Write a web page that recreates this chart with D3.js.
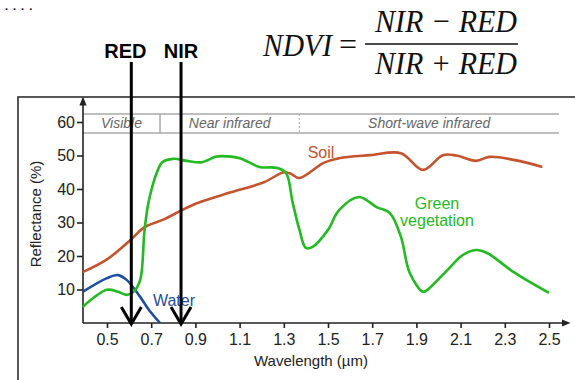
<!DOCTYPE html>
<html>
<head>
<meta charset="utf-8">
<script src="https://cdn.jsdelivr.net/npm/d3@7"></script>
<style>
  body { margin: 0; background: #fff; }
  svg { display: block; }
</style>
</head>
<body>
<script>
var width = 575, height = 380;

// spectral curves, [wavelength um, reflectance %]
var soil = [[0.39,15.2],[0.5,19],[0.61,25],[0.67,28.6],[0.76,31],[0.83,33.4],[0.91,35.8],[1.06,39],[1.21,42],[1.30,45],[1.33,44.6],[1.37,43.3],[1.48,47.8],[1.55,49.2],[1.69,50.1],[1.83,50.7],[1.93,45.7],[2.02,50.1],[2.08,50],[2.17,48.4],[2.23,49.6],[2.34,48.7],[2.47,46.6]];
var vegetation = [[0.39,4.8],[0.5,9.9],[0.55,9.3],[0.59,8.4],[0.62,9.3],[0.65,12.8],[0.67,27.8],[0.69,36.7],[0.73,45.7],[0.75,48],[0.80,49],[0.86,48.4],[0.93,48],[0.99,49.6],[1.02,49.8],[1.10,49.2],[1.19,46.6],[1.27,46.3],[1.31,44.8],[1.34,36],[1.37,28],[1.40,22.4],[1.43,22.7],[1.50,27.8],[1.55,33.7],[1.64,37.6],[1.72,34.6],[1.78,32.8],[1.83,25.7],[1.87,14.9],[1.93,9.3],[1.95,9.9],[2.04,15.8],[2.11,20.3],[2.17,21.8],[2.22,20.9],[2.34,15.2],[2.50,9.0]];
var water = [[0.39,9.3],[0.5,13.4],[0.55,14.3],[0.59,12.8],[0.65,7.8],[0.69,3.9],[0.74,0]];

var xTicks = [0.5,0.7,0.9,1.1,1.3,1.5,1.7,1.9,2.1,2.3,2.5];
var yTicks = [10,20,30,40,50,60];
var bands = [
  {name: "Visible", from: 0.39, to: 0.74},
  {name: "Near infrared", from: 0.74, to: 1.37},
  {name: "Short-wave infrared", from: 1.37, to: 2.55}
];
var sensorBands = [{name: "RED", at: 0.61}, {name: "NIR", at: 0.835}];

var x = d3.scaleLinear().domain([0.5, 2.5]).range([107, 549]);
var y = d3.scaleLinear().domain([0, 60]).range([323, 122]);

var svg = d3.select("body").append("svg")
    .attr("width", width)
    .attr("height", height)
    .style("font-family", "'Liberation Sans', Arial, sans-serif");

svg.append("defs").append("marker")
    .attr("id", "tri")
    .attr("viewBox", "0 0 10 10")
    .attr("refX", 5).attr("refY", 5)
    .attr("markerWidth", 9).attr("markerHeight", 9)
    .attr("orient", "auto")
    .attr("markerUnits", "userSpaceOnUse")
  .append("path")
    .attr("d", "M0,1 L10,5 L0,9 z")
    .style("fill", "#222");

// tail of a text line above the figure
svg.append("text")
    .attr("x", 5).attr("y", 10)
    .style("font-weight", "bold").style("font-size", "11px")
    .style("letter-spacing", "5px")
    .text("....");

// frame around the figure
svg.append("path")
    .attr("d", "M18,385 L18,97 L580,97")
    .style("fill", "none").style("stroke", "#222").style("stroke-width", 1.5);

// band header box
var x0 = 83, x1 = 559;
var bandG = svg.append("g");
bandG.append("line").attr("x1", x0).attr("x2", x1).attr("y1", 114).attr("y2", 114);
bandG.append("line").attr("x1", x0).attr("x2", x1).attr("y1", 133).attr("y2", 133);
bandG.append("line").attr("x1", x(0.74)).attr("x2", x(0.74)).attr("y1", 114).attr("y2", 133);
bandG.selectAll("line").style("stroke", "#aaa").style("stroke-width", 1.5);
bandG.append("line").attr("x1", x(1.37)).attr("x2", x(1.37)).attr("y1", 114).attr("y2", 133)
    .style("stroke", "#aaa").style("stroke-width", 1).style("stroke-dasharray", "2,2");
bandG.selectAll("text.band").data(bands).enter().append("text")
    .attr("class", "band")
    .attr("x", function(d){ return (Math.max(x(d.from), x0) + Math.min(x(d.to), x1)) / 2; })
    .attr("y", 128)
    .attr("text-anchor", "middle")
    .style("font-style", "italic").style("font-size", "14px").style("fill", "#666")
    .text(function(d){ return d.name; });

// axes
var xAxis = svg.append("g").attr("transform", "translate(0," + y(0) + ")")
    .call(d3.axisBottom(x).tickValues(xTicks).tickSize(5).tickPadding(6).tickFormat(d3.format(".1f")));
xAxis.select(".domain").remove();
xAxis.append("line").attr("class", "axisline")
    .attr("x1", x0).attr("x2", 566).attr("y1", 0).attr("y2", 0)
    .attr("marker-end", "url(#tri)");

var yAxis = svg.append("g").attr("transform", "translate(" + x0 + ",0)")
    .call(d3.axisLeft(y).tickValues(yTicks).tickSize(6).tickPadding(2));
yAxis.select(".domain").remove();
yAxis.append("line").attr("class", "axisline")
    .attr("x1", 0).attr("x2", 0).attr("y1", y(0)).attr("y2", 101)
    .attr("marker-end", "url(#tri)");

svg.selectAll(".tick line, line.axisline").style("stroke", "#222").style("stroke-width", 1.6);
svg.selectAll(".tick text")
    .style("font-size", "16px").style("fill", "#222")
    .style("font-family", "'Liberation Sans', Arial, sans-serif");

svg.append("text")
    .attr("x", 311).attr("y", 366)
    .attr("text-anchor", "middle")
    .style("font-size", "15px").style("fill", "#222")
    .text("Wavelength (\u00b5m)");
svg.append("text")
    .attr("transform", "translate(41,214) rotate(-90)")
    .attr("text-anchor", "middle")
    .style("font-size", "15px").style("fill", "#222")
    .text("Reflectance (%)");

// curves
var line = d3.line()
    .x(function(d){ return x(d[0]); })
    .y(function(d){ return y(d[1]); })
    .curve(d3.curveCatmullRom.alpha(0.5));

var series = [
  {data: soil, color: "#c4532e"},
  {data: water, color: "#1d4f9e"},
  {data: vegetation, color: "#22bb22"}
];
svg.selectAll("path.curve").data(series).enter().append("path")
    .attr("class", "curve")
    .attr("d", function(d){ return line(d.data); })
    .style("fill", "none")
    .style("stroke", function(d){ return d.color; })
    .style("stroke-width", 2.6)
    .style("stroke-linejoin", "round");

var labels = [
  {text: "Soil", x: 321, y: 158, color: "#c4532e"},
  {text: "Green", x: 437, y: 209, color: "#22bb22"},
  {text: "vegetation", x: 437, y: 226, color: "#22bb22"},
  {text: "Water", x: 174, y: 306, color: "#1d4f9e"}
];
svg.selectAll("text.lbl").data(labels).enter().append("text")
    .attr("class", "lbl")
    .attr("x", function(d){ return d.x; })
    .attr("y", function(d){ return d.y; })
    .attr("text-anchor", "middle")
    .style("font-size", "16px")
    .style("fill", function(d){ return d.color; })
    .text(function(d){ return d.text; });

// sensor band arrows
var arrows = svg.selectAll("g.arrow").data(sensorBands).enter().append("g").attr("class", "arrow");
arrows.append("line")
    .attr("x1", function(d){ return x(d.at); })
    .attr("x2", function(d){ return x(d.at); })
    .attr("y1", 62).attr("y2", 324);
arrows.append("path")
    .attr("d", function(d){ var cx = x(d.at); return "M" + (cx - 10) + ",307 L" + cx + ",324 L" + (cx + 10) + ",307"; })
    .style("fill", "none");
arrows.selectAll("line, path").style("stroke", "#000").style("stroke-width", 3);
arrows.append("text")
    .attr("x", function(d){ return x(d.at) - (d.name == "RED" ? 6 : 0); })
    .attr("y", 58)
    .attr("text-anchor", "middle")
    .style("font-weight", "bold").style("font-size", "20px")
    .text(function(d){ return d.name; });

// NDVI formula
var f = svg.append("g")
    .style("font-family", "'Liberation Serif', 'DejaVu Serif', serif")
    .style("font-style", "italic").style("font-size", "32px").style("fill", "#111");
f.append("text").attr("x", 263).attr("y", 56).attr("textLength", 69).attr("lengthAdjust", "spacingAndGlyphs").text("NDVI");
f.append("text").attr("x", 339).attr("y", 55).style("font-style", "normal").text("=");
f.append("text").attr("x", 375).attr("y", 32).attr("textLength", 142).attr("lengthAdjust", "spacingAndGlyphs").text("NIR \u2212 RED");
f.append("line").attr("x1", 365).attr("x2", 518).attr("y1", 44).attr("y2", 44)
    .style("stroke", "#111").style("stroke-width", 1.5);
f.append("text").attr("x", 375).attr("y", 74).attr("textLength", 142).attr("lengthAdjust", "spacingAndGlyphs").text("NIR + RED");
</script>
</body>
</html>
